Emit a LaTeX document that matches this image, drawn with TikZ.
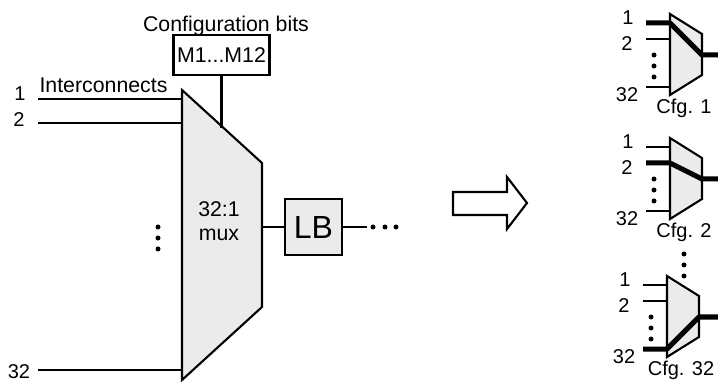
\documentclass[tikz,border=0pt]{standalone}
\usepackage{fontspec}
\setmainfont{Liberation Sans}
\usepackage{xcolor}
\definecolor{muxgray}{HTML}{EBEBEB}
\begin{document}
\begin{tikzpicture}[
    x=1pt, y=-1pt,
    wire/.style={line width=2.1pt, black},
    boldwire/.style={line width=5pt, black},
    muxbody/.style={draw=black, fill=muxgray, line width=2.1pt, line join=miter},
    txt/.style={inner sep=0pt, font=\fontsize{21.3}{24}\selectfont, align=center},
    smalltxt/.style={inner sep=0pt, font=\fontsize{20}{22}\selectfont},
    box/.style={rectangle, draw=black, line width=2.1pt, inner sep=0pt, align=center},
    dotmark/.style={circle, fill=black, inner sep=0pt, minimum size=5pt}
]
\useasboundingbox (0,0) rectangle (718,382);

% large mux
\coordinate (a) at (182,90);
\coordinate (b) at (262,163);
\coordinate (c) at (262,307);
\coordinate (d) at (182,380);
\draw[muxbody] (a) -- (b) -- (c) -- (d) -- cycle;
\node[txt] (muxa) at (219,209) {32:1};
\node[txt] (muxb) at (219,235) {mux};

\node[txt, anchor=base] (cfg) at (226,32) {Configuration bits};
\node[box, minimum width=96pt, minimum height=40pt, font=\fontsize{21.3}{24}\selectfont] (bits) at (221.5,55) {M1...M12};
\coordinate (tap) at (221.5,128);
\draw[wire] (bits.south) -- (tap);

\node[txt, anchor=base] (inter) at (103.5,93) {Interconnects};
\node[smalltxt] (n1) at (20,94) {1};
\node[smalltxt] (n2) at (19,120) {2};
\node[smalltxt] (n32) at (19,372) {32};
\coordinate (in1) at (38,99);
\coordinate (in2) at (38,123);
\coordinate (in32) at (38,370);
\draw[wire] (in1) -- (in1 -| a);
\draw[wire] (in2) -- (in2 -| a);
\draw[wire] (in32) -- (in32 -| a);

\node[dotmark] (v1) at (158,227) {};
\node[dotmark] (v2) at (158,238) {};
\node[dotmark] (v3) at (158,249) {};

\node[box, fill=muxgray, minimum width=57pt, minimum height=56pt, font=\fontsize{32}{34}\selectfont] (lb) at (313.5,227) {LB};
\draw[wire] (lb.west -| b) -- (lb.west);
\coordinate (lbout) at (367,227);
\draw[wire] (lb.east) -- (lbout);
\node[dotmark] (h1) at (373,227) {};
\node[dotmark] (h2) at (385,227) {};
\node[dotmark] (h3) at (396,227) {};

% big arrow
\draw[line width=2.1pt, line join=miter] (453,192) -- (507,192) -- (507,177) -- (527,203)
    -- (507,229) -- (507,215) -- (453,215) -- cycle;

% small muxes: name/left/top/bold input/caption
\foreach \m/\x/\y/\b/\cap in {p/670/14/9/Cfg. 1, q/670/138/25/Cfg. 2, r/667/276/73/Cfg. 32}{
    \coordinate (\m a) at (\x,\y);
    \coordinate (\m b) at (\x+32,\y+20);
    \coordinate (\m c) at (\x+32,\y+61);
    \coordinate (\m d) at (\x,\y+81);
    \coordinate (\m o) at (\x+32,\y+41);
    \coordinate (\m e) at (718,\y+41);
    \coordinate (\m s) at (\x,\y+\b);
    \coordinate (\m t) at (\x-24,\y+\b);
    \draw[muxbody] (\m a) -- (\m b) -- (\m c) -- (\m d) -- cycle;
    \foreach \i in {9,25,73}{
        \coordinate (\m i\i) at (\x-24,\y+\i);
        \draw[wire] (\m i\i) -- ++(24,0);
    }
    \draw[boldwire, line join=round] (\m t) -- (\m s) -- (\m o) -- (\m e);
    \node[smalltxt] (\m n1) at (\x-42,\y+4) {1};
    \node[smalltxt] (\m n2) at (\x-43,\y+30) {2};
    \node[smalltxt] (\m n32) at (\x-43,\y+81) {32};
    \node[dotmark] (\m v1) at (\x-16,\y+41) {};
    \node[dotmark] (\m v2) at (\x-16,\y+52) {};
    \node[dotmark] (\m v3) at (\x-16,\y+63) {};
    \node[smalltxt] (\m cap) at (\x+14,\y+94) {\cap};
}
\node[dotmark] (g1) at (684,254) {};
\node[dotmark] (g2) at (684,265) {};
\node[dotmark] (g3) at (684,276) {};
\end{tikzpicture}
\end{document}
